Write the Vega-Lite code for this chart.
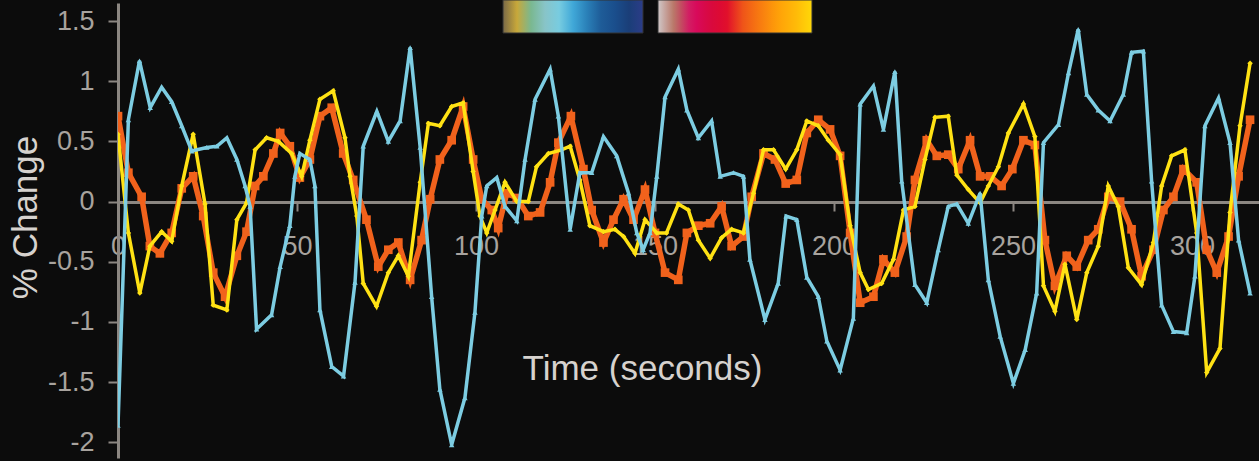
{
  "$schema": "https://vega.github.io/schema/vega-lite/v6.json",
  "width": 1141,
  "height": 455,
  "autosize": {"type": "none"},
  "padding": {"left": 118, "top": 3, "right": 0, "bottom": 3},
  "background": "#0c0c0c",
  "config": {"view": {"stroke": null}, "font": "Liberation Sans"},
  "datasets": {
    "blue": [
      {"t":0,"v":-1.86},{"t":2.9,"v":0.68},{"t":6,"v":1.17},{"t":9,"v":0.78},{"t":12.2,"v":0.95},{"t":15,"v":0.83},{"t":17.8,"v":0.63},{"t":20.6,"v":0.42},{"t":24.8,"v":0.45},{"t":27.6,"v":0.46},{"t":30.4,"v":0.53},{"t":33.2,"v":0.35},{"t":35.5,"v":0.13},{"t":36.9,"v":-0.04},{"t":38.7,"v":-1.06},{"t":42.9,"v":-0.94},{"t":45.3,"v":-0.54},{"t":48,"v":-0.2},{"t":49.4,"v":0.21},{"t":50.8,"v":0.4},{"t":53.6,"v":0.35},{"t":55,"v":0.13},{"t":56.4,"v":-0.9},{"t":59.7,"v":-1.37},{"t":63,"v":-1.45},{"t":66.2,"v":-0.67},{"t":68.5,"v":0.46},{"t":72.3,"v":0.75},{"t":75.5,"v":0.5},{"t":78.8,"v":0.67},{"t":81.6,"v":1.28},{"t":84.4,"v":0.45},{"t":87.6,"v":-0.79},{"t":89.9,"v":-1.56},{"t":93.2,"v":-2.02},{"t":96.9,"v":-1.63},{"t":99.7,"v":-0.92},{"t":101.6,"v":-0.12},{"t":103,"v":0.13},{"t":105.8,"v":0.2},{"t":108.1,"v":-0.04},{"t":111.4,"v":-0.16},{"t":113.7,"v":0.35},{"t":116.5,"v":0.85},{"t":120.7,"v":1.1},{"t":123,"v":0.71},{"t":126.3,"v":-0.23},{"t":129,"v":0.24},{"t":132.3,"v":0.24},{"t":135.6,"v":0.54},{"t":139.3,"v":0.38},{"t":142.6,"v":0.07},{"t":144.9,"v":-0.26},{"t":146.7,"v":-0.4},{"t":148.6,"v":-0.26},{"t":150.5,"v":0.21},{"t":152.8,"v":0.87},{"t":156.5,"v":1.1},{"t":158.9,"v":0.76},{"t":162.1,"v":0.53},{"t":165.8,"v":0.67},{"t":168.2,"v":0.21},{"t":171.9,"v":0.24},{"t":174.7,"v":0.21},{"t":176.5,"v":-0.48},{"t":180.7,"v":-0.98},{"t":184.4,"v":-0.68},{"t":186.6,"v":-0.12},{"t":189.6,"v":-0.15},{"t":192.4,"v":-0.63},{"t":195.6,"v":-0.79},{"t":198,"v":-1.16},{"t":201.7,"v":-1.4},{"t":205.4,"v":-0.97},{"t":207.3,"v":0.81},{"t":211,"v":0.96},{"t":213.8,"v":0.6},{"t":217,"v":1.08},{"t":218.9,"v":0.17},{"t":222.6,"v":-0.69},{"t":225.9,"v":-0.84},{"t":229.1,"v":-0.4},{"t":231.9,"v":-0.04},{"t":234.3,"v":-0.02},{"t":237.5,"v":-0.18},{"t":240.8,"v":0.07},{"t":243.1,"v":-0.65},{"t":246.4,"v":-1.12},{"t":250.1,"v":-1.51},{"t":253.4,"v":-1.23},{"t":256.6,"v":-0.76},{"t":258.5,"v":0.49},{"t":262.7,"v":0.64},{"t":265.5,"v":1.07},{"t":268.2,"v":1.43},{"t":270.6,"v":0.89},{"t":273.8,"v":0.76},{"t":277.1,"v":0.67},{"t":280.8,"v":0.89},{"t":283.1,"v":1.24},{"t":286.4,"v":1.25},{"t":288.7,"v":0.17},{"t":291.5,"v":-0.86},{"t":294.8,"v":-1.08},{"t":298.5,"v":-1.09},{"t":300.8,"v":-0.62},{"t":303.6,"v":0.63},{"t":307.4,"v":0.86},{"t":310.6,"v":0.49},{"t":313,"v":-0.32},{"t":316.2,"v":-0.76}
    ],
    "yellow": [
      {"t":0,"v":0.56},{"t":2.9,"v":-0.26},{"t":6.1,"v":-0.76},{"t":8.9,"v":-0.37},{"t":12.2,"v":-0.25},{"t":15,"v":-0.33},{"t":17.8,"v":0.13},{"t":21,"v":0.56},{"t":24.3,"v":-0.02},{"t":26.6,"v":-0.86},{"t":30.4,"v":-0.9},{"t":33.2,"v":-0.15},{"t":35.9,"v":-0.01},{"t":38.3,"v":0.43},{"t":41.5,"v":0.53},{"t":44.8,"v":0.5},{"t":48.5,"v":0.4},{"t":51.3,"v":0.21},{"t":53.6,"v":0.51},{"t":56.4,"v":0.85},{"t":60.1,"v":0.92},{"t":63.4,"v":0.53},{"t":64.8,"v":0.21},{"t":66.7,"v":-0.12},{"t":68.5,"v":-0.68},{"t":72.2,"v":-0.87},{"t":75.5,"v":-0.59},{"t":78.3,"v":-0.45},{"t":81.1,"v":-0.62},{"t":84.4,"v":0.16},{"t":86.7,"v":0.65},{"t":89.9,"v":0.63},{"t":93.2,"v":0.79},{"t":96.4,"v":0.82},{"t":99.2,"v":0.25},{"t":101.1,"v":-0.12},{"t":103,"v":-0.26},{"t":105.3,"v":-0.07},{"t":108.1,"v":0.16},{"t":111.4,"v":0},{"t":114.6,"v":0},{"t":116.9,"v":0.29},{"t":120.2,"v":0.4},{"t":123.9,"v":0.43},{"t":126.3,"v":0.46},{"t":129,"v":0.18},{"t":131.8,"v":-0.2},{"t":135.6,"v":-0.25},{"t":138.8,"v":-0.23},{"t":141.2,"v":-0.29},{"t":144.4,"v":-0.43},{"t":147.2,"v":-0.15},{"t":150.5,"v":-0.26},{"t":153.2,"v":-0.26},{"t":156.5,"v":-0.02},{"t":159.3,"v":-0.07},{"t":162.1,"v":-0.32},{"t":165.4,"v":-0.47},{"t":168.6,"v":-0.3},{"t":171.4,"v":-0.23},{"t":174.7,"v":-0.26},{"t":177.5,"v":0.07},{"t":180.3,"v":0.43},{"t":183.1,"v":0.43},{"t":186.5,"v":0.27},{"t":189.6,"v":0.43},{"t":192.4,"v":0.67},{"t":195.6,"v":0.63},{"t":198.4,"v":0.51},{"t":201.7,"v":0.39},{"t":204.5,"v":-0.2},{"t":207.3,"v":-0.59},{"t":209.6,"v":-0.73},{"t":213.3,"v":-0.68},{"t":216.6,"v":-0.48},{"t":219.4,"v":-0.07},{"t":222.6,"v":-0.04},{"t":225.4,"v":0.35},{"t":228.2,"v":0.7},{"t":231.9,"v":0.71},{"t":234.3,"v":0.22},{"t":237.5,"v":0.1},{"t":240.8,"v":-0.01},{"t":243.1,"v":0.13},{"t":245.9,"v":0.29},{"t":248.7,"v":0.57},{"t":252.9,"v":0.81},{"t":256.1,"v":0.54},{"t":258.5,"v":-0.7},{"t":261.7,"v":-0.91},{"t":264.5,"v":-0.52},{"t":267.8,"v":-0.98},{"t":270.6,"v":-0.59},{"t":273.8,"v":-0.37},{"t":276.6,"v":0.13},{"t":279.4,"v":-0.04},{"t":282.2,"v":-0.55},{"t":285.9,"v":-0.69},{"t":289.2,"v":-0.34},{"t":291.5,"v":0.13},{"t":294.3,"v":0.38},{"t":298,"v":0.43},{"t":301.3,"v":-0.26},{"t":304.1,"v":-1.42},{"t":307.8,"v":-1.22},{"t":310.6,"v":-0.09},{"t":313.4,"v":0.63},{"t":316.2,"v":1.15}
    ],
    "orange": [
      {"t":0,"v":0.71},{"t":2.9,"v":0.24},{"t":6.6,"v":0.04},{"t":8.9,"v":-0.37},{"t":11.7,"v":-0.43},{"t":15,"v":-0.26},{"t":17.8,"v":0.11},{"t":21,"v":0.21},{"t":23.8,"v":-0.12},{"t":26.6,"v":-0.59},{"t":29.9,"v":-0.79},{"t":33.2,"v":-0.45},{"t":35.9,"v":-0.25},{"t":38.3,"v":0.13},{"t":40.6,"v":0.21},{"t":43.4,"v":0.4},{"t":45.3,"v":0.57},{"t":48,"v":0.46},{"t":50.8,"v":0.2},{"t":53.6,"v":0.35},{"t":56.4,"v":0.71},{"t":59.7,"v":0.78},{"t":62.9,"v":0.4},{"t":65.7,"v":0.18},{"t":69.4,"v":-0.15},{"t":72.7,"v":-0.54},{"t":75.5,"v":-0.4},{"t":78.3,"v":-0.34},{"t":81.6,"v":-0.65},{"t":84.8,"v":-0.32},{"t":87.2,"v":0.02},{"t":89.9,"v":0.35},{"t":93.2,"v":0.51},{"t":96.4,"v":0.79},{"t":99.2,"v":0.35},{"t":101.6,"v":0.02},{"t":104.4,"v":-0.07},{"t":106.2,"v":-0.22},{"t":108.6,"v":0.07},{"t":111.4,"v":0.03},{"t":114.6,"v":-0.12},{"t":117.9,"v":-0.09},{"t":120.7,"v":0.16},{"t":123,"v":0.49},{"t":126.5,"v":0.71},{"t":130,"v":0.27},{"t":132.3,"v":-0.07},{"t":135.6,"v":-0.34},{"t":138.4,"v":-0.15},{"t":141.2,"v":0.02},{"t":144,"v":-0.15},{"t":147.2,"v":0.1},{"t":150,"v":-0.26},{"t":152.8,"v":-0.59},{"t":156.5,"v":-0.65},{"t":158.9,"v":-0.26},{"t":162.1,"v":-0.2},{"t":165.4,"v":-0.18},{"t":168.6,"v":-0.04},{"t":171.4,"v":-0.37},{"t":174.7,"v":-0.29},{"t":177,"v":0.04},{"t":180.3,"v":0.4},{"t":183.5,"v":0.35},{"t":186.5,"v":0.15},{"t":189.6,"v":0.18},{"t":192.4,"v":0.57},{"t":195.6,"v":0.68},{"t":198.9,"v":0.6},{"t":201.7,"v":0.38},{"t":204.5,"v":-0.26},{"t":207.3,"v":-0.84},{"t":211,"v":-0.79},{"t":213.8,"v":-0.48},{"t":217,"v":-0.59},{"t":220.3,"v":-0.29},{"t":222.6,"v":0.18},{"t":225.9,"v":0.51},{"t":228.7,"v":0.38},{"t":231.9,"v":0.39},{"t":234.7,"v":0.27},{"t":238,"v":0.51},{"t":240.8,"v":0.21},{"t":243.6,"v":0.21},{"t":246.8,"v":0.13},{"t":249.8,"v":0.27},{"t":252.9,"v":0.51},{"t":256.1,"v":0.47},{"t":258.9,"v":-0.32},{"t":261.7,"v":-0.7},{"t":265,"v":-0.45},{"t":267.8,"v":-0.54},{"t":271,"v":-0.32},{"t":273.8,"v":-0.23},{"t":276.6,"v":0.04},{"t":279.9,"v":0},{"t":283.1,"v":-0.23},{"t":285.9,"v":-0.62},{"t":289.2,"v":-0.4},{"t":292,"v":-0.07},{"t":294.8,"v":0.04},{"t":297.6,"v":0.27},{"t":301.3,"v":0.16},{"t":304.1,"v":-0.4},{"t":306.9,"v":-0.59},{"t":310.2,"v":-0.29},{"t":313,"v":0.21},{"t":316.2,"v":0.68}
    ],
    "levels": [{"level": 0}, {"level": 1}]
  },
  "layer": [
    {
      "data": {"name": "orange"},
      "mark": {"type": "line", "color": "#f1621c", "strokeWidth": 5.5, "clip": true,
               "point": {"shape": "square", "size": 75, "color": "#f1621c", "filled": true, "opacity": 1}},
      "encoding": {
        "x": {"field": "t", "type": "quantitative",
              "scale": {"domain": [0, 318.7], "nice": false, "zero": false},
              "axis": {"orient": "bottom", "offset": -256, "values": [0, 50, 100, 150, 200, 250, 300],
                       "domainColor": "#8c8782", "domainWidth": 3, "tickColor": "#8c8782", "tickWidth": 2, "tickSize": 9,
                       "labelFontSize": 27, "labelColor": "#a8a39e", "labelPadding": 22, "labelFlush": false, "labelOverlap": false,
                       "grid": false, "title": "Time (seconds)", "titleFontSize": 35, "titleFontWeight": "normal",
                       "titleColor": "#d6d2ce", "titleX": 524, "titleY": 166, "titleBaseline": "middle", "titleAlign": "center"}},
        "y": {"field": "v", "type": "quantitative",
              "scale": {"domain": [-2.13, 1.65], "nice": false, "zero": false},
              "axis": {"values": [-2, -1.5, -1, -0.5, 0, 0.5, 1, 1.5], "labelExpr": "'' + datum.value",
                       "domainColor": "#8c8782", "domainWidth": 3, "tickColor": "#8c8782", "tickWidth": 2, "tickSize": 10,
                       "labelFontSize": 27, "labelColor": "#a8a39e", "labelPadding": 14, "labelFlush": false, "labelOverlap": false,
                       "grid": false, "title": "% Change", "titleFontSize": 35, "titleFontWeight": "normal",
                       "titleColor": "#d6d2ce", "titleX": -93, "titleY": 214, "titleAngle": 270, "titleBaseline": "middle", "titleAlign": "center"}}
      }
    },
    {
      "data": {"name": "yellow"},
      "mark": {"type": "line", "color": "#ffe214", "strokeWidth": 3.5, "clip": true,
               "point": {"shape": "diamond", "size": 30, "color": "#ffe214", "filled": true, "opacity": 1}},
      "encoding": {
        "x": {"field": "t", "type": "quantitative"},
        "y": {"field": "v", "type": "quantitative"}
      }
    },
    {
      "data": {"name": "blue"},
      "mark": {"type": "line", "color": "#7dcde2", "strokeWidth": 3.5, "clip": true,
               "point": {"shape": "triangle-up", "size": 30, "color": "#7dcde2", "filled": true, "opacity": 1}},
      "encoding": {
        "x": {"field": "t", "type": "quantitative"},
        "y": {"field": "v", "type": "quantitative"}
      }
    },
    {
      "data": {"name": "levels"},
      "mark": {"type": "point", "size": 0, "filled": true, "strokeWidth": 0, "opacity": 1},
      "encoding": {
        "color": {"field": "level", "type": "quantitative",
                  "scale": {"domain": [0, 1], "interpolate": "rgb", "range": ["#7a6a48", "#c8a83a", "#7ab890", "#88c4c8", "#78cce0", "#40a8d8", "#2a80b8", "#1e5c98", "#1a4e8c", "#1a3e78", "#2c3c88"]},
                  "legend": {"orient": "none", "legendX": 385, "legendY": -3, "direction": "horizontal",
                             "gradientLength": 140, "gradientThickness": 33, "title": null, "padding": 0,
                             "labelExpr": "''", "labelOpacity": 0, "gradientStrokeColor": "#333", "gradientStrokeWidth": 1}}
      }
    },
    {
      "data": {"name": "levels"},
      "mark": {"type": "point", "size": 0, "filled": true, "strokeWidth": 0, "opacity": 1},
      "encoding": {
        "color": {"field": "level", "type": "quantitative",
                  "scale": {"domain": [0, 1], "interpolate": "rgb", "range": ["#d0c8c8", "#b87060", "#d80a64", "#d80840", "#e00c2c", "#f05818", "#f87c10", "#ffa008", "#ffb808", "#ffd808"]},
                  "legend": {"orient": "none", "legendX": 540, "legendY": -3, "direction": "horizontal",
                             "gradientLength": 154, "gradientThickness": 33, "title": null, "padding": 0,
                             "labelExpr": "''", "labelOpacity": 0, "gradientStrokeColor": "#333", "gradientStrokeWidth": 1}}
      }
    }
  ],
  "resolve": {"scale": {"color": "independent"}, "legend": {"color": "independent"}}
}
